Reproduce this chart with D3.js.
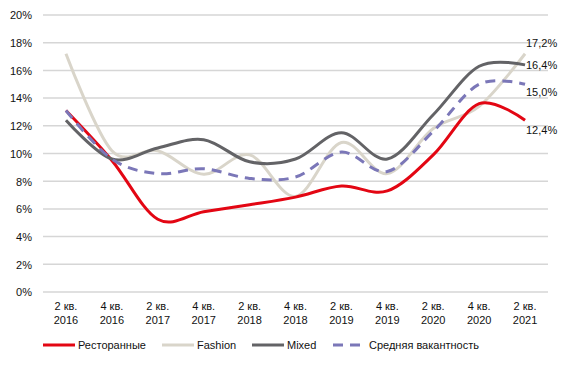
<!DOCTYPE html>
<html><head><meta charset="utf-8">
<script src="https://cdn.jsdelivr.net/npm/d3@7"></script>
<style>body{margin:0;background:#fff}svg{display:block}</style>
</head><body>
<svg id="c" width="570" height="366"></svg>
<script>
const categories = ["2 кв.|2016","4 кв.|2016","2 кв.|2017","4 кв.|2017","2 кв.|2018","4 кв.|2018","2 кв.|2019","4 кв.|2019","2 кв.|2020","4 кв.|2020","2 кв.|2021"];
const restaurants = [13.1, 9.5, 5.25, 5.8, 6.3, 6.85, 7.65, 7.3, 9.9, 13.6, 12.4];
const fashion     = [17.2, 10.2, 10.2, 8.5, 9.9, 6.9, 10.8, 8.55, 11.8, 13.4, 17.2];
const mixed       = [12.4, 9.6, 10.4, 11.0, 9.4, 9.6, 11.5, 9.6, 12.8, 16.3, 16.4];
const average     = [13.1, 9.6, 8.55, 8.9, 8.2, 8.3, 10.1, 8.7, 11.6, 15.0, 15.0];
const yTicks = [0,2,4,6,8,10,12,14,16,18,20];
const endLabels = [["17,2%", 17.2, -11], ["16,4%", 16.4, 0], ["15,0%", 15.0, 8], ["12,4%", 12.4, 10]];

(function(){
const series = [
  {name:"Ресторанные", values:restaurants, color:"#E30613", dash:null},
  {name:"Fashion", values:fashion, color:"#D9D5CA", dash:null},
  {name:"Mixed", values:mixed, color:"#636366", dash:null},
  {name:"Средняя вакантность", values:average, color:"#7B77B8", dash:"10,7"}
];

const svg = d3.select("#c");
const font = "'Liberation Sans', Arial, sans-serif";
const pLeft = 43, pRight = 548, pTop = 15, pBottom = 292;

const x = d3.scaleBand().domain(categories).range([pLeft, pRight]);
const xc = c => x(c) + x.bandwidth()/2;
const y = d3.scaleLinear().domain([0, 20]).range([pBottom, pTop]);

// gridlines
svg.append("g").selectAll("line").data(yTicks).join("line")
  .attr("x1", pLeft).attr("x2", pRight)
  .attr("y1", d => y(d)).attr("y2", d => y(d))
  .attr("stroke", "#d6d6d6").attr("stroke-width", 1.5);

// y axis labels
const yAxis = d3.axisLeft(y).tickValues(yTicks).tickFormat(d => d + "%").tickSize(0).tickPadding(0);
const ya = svg.append("g").attr("transform", `translate(32,0)`).call(yAxis);
ya.select(".domain").remove();
ya.selectAll("text").attr("font-family", font).attr("font-size", 11).attr("fill", "#111").attr("dy", "0.35em");

// x axis labels
const xAxis = d3.axisBottom(x).tickSize(0).tickFormat("");
const xa = svg.append("g").attr("transform", `translate(0,${pBottom})`).call(xAxis);
xa.select(".domain").remove();
xa.selectAll(".tick").each(function(d){
  const parts = d.split("|");
  const t = d3.select(this).append("text").attr("font-family", font).attr("font-size", 11)
    .attr("fill", "#111").attr("text-anchor", "middle");
  t.append("tspan").attr("x", 0).attr("y", 18).text(parts[0]);
  t.append("tspan").attr("x", 0).attr("y", 32).text(parts[1]);
});

// lines
const line = d3.line().x((d,i) => xc(categories[i])).y(d => y(d)).curve(d3.curveCardinal.tension(0));
const drawOrder = [series[1], series[0], series[2], series[3]];
svg.append("g").selectAll("path").data(drawOrder).join("path")
  .attr("d", s => line(s.values))
  .attr("fill", "none").attr("stroke", s => s.color).attr("stroke-width", 3)
  .attr("stroke-dasharray", s => s.dash).attr("stroke-linecap", "butt");

// end labels
svg.append("g").selectAll("text").data(endLabels).join("text")
  .attr("x", 526).attr("y", d => y(d[1]) + d[2]).attr("dy", "0.35em")
  .attr("font-family", font).attr("font-size", 11).attr("fill", "#111").text(d => d[0]);

// legend
const legendX = [43, 162, 252, 333];
const lg = svg.append("g").selectAll("g").data(series).join("g")
  .attr("transform", (d,i) => `translate(${legendX[i]},345)`);
lg.append("line").attr("x1", 0).attr("x2", s => s.dash ? 30 : 32).attr("y1", 0).attr("y2", 0)
  .attr("stroke", s => s.color).attr("stroke-width", 3).attr("stroke-dasharray", s => s.dash);
lg.append("text").attr("x", s => s.dash ? 36 : 35).attr("y", 0).attr("dy", "0.35em")
  .attr("font-family", font).attr("font-size", 11).attr("fill", "#111").text(s => s.name);
})();
</script>
</body></html>
